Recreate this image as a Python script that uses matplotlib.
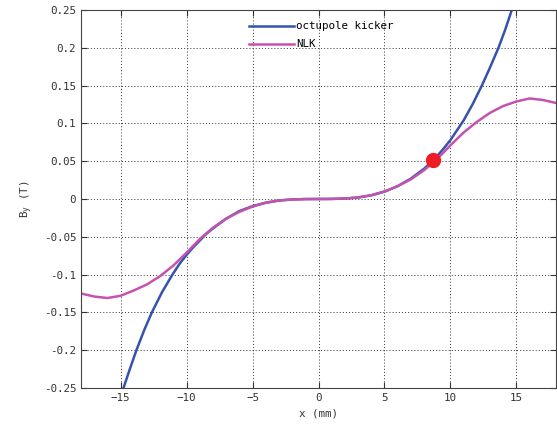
import matplotlib
matplotlib.use("Agg")
import matplotlib.pyplot as plt
import numpy as np

# field readings taken from the figure
x_oct = [-15, -14.78, -14.3, -13.8, -13.2, -12.63, -11.85, -11.07, -10.5, -10, -9.5, -9, -8.5, -8, -7, -6, -5, -4, -3, -2, -1,
         0, 1, 2, 3, 4, 5, 6, 7, 8, 8.5, 9, 9.5, 10, 10.5, 11, 11.7, 12.38, 13, 13.64, 14.15, 14.65, 15]
b_oct = [-0.262, -0.25, -0.225, -0.2, -0.173, -0.15, -0.123, -0.1, -0.085, -0.074, -0.064,
         -0.055, -0.046, -0.039, -0.026, -0.016, -0.0095, -0.0049, -0.002, -0.0006, -0.0001,
         0.0, 0.0001, 0.0006, 0.002, 0.0049, 0.0097, 0.017, 0.027, 0.040, 0.048, 0.057, 0.067, 0.078,
         0.091, 0.104, 0.126, 0.15, 0.174, 0.2, 0.224, 0.25, 0.269]

x_nlk = [-18, -17, -16, -15, -14, -13, -12, -11, -10, -9, -8, -7, -6, -5, -4, -3, -2, -1,
         0, 1, 2, 3, 4, 5, 6, 7, 8, 9, 10, 11, 12, 13, 14, 15, 16, 17, 18]
b_nlk = [-0.125, -0.129, -0.131, -0.128, -0.121, -0.113, -0.102, -0.088, -0.071, -0.053, -0.038, -0.026,
         -0.017, -0.010, -0.005, -0.002, -0.0006, -0.0001,
         0.0, 0.0001, 0.0006, 0.002, 0.005, 0.010, 0.017, 0.026, 0.038, 0.053, 0.071, 0.088, 0.102, 0.114,
         0.123, 0.129, 0.133, 0.131, 0.127]

match_x = [8.7]
match_b = [0.051]

xticks = [-15, -10, -5, 0, 5, 10, 15]
yticks = [-0.25, -0.2, -0.15, -0.1, -0.05, 0, 0.05, 0.1, 0.15, 0.2, 0.25]
ytick_labels = ["-0.25", "-0.2", "-0.15", "-0.1", "-0.05", "0", "0.05", "0.1", "0.15", "0.2", "0.25"]

plt.rcParams['font.family'] = ['DejaVu Sans Mono']
plt.rcParams['font.size'] = 7.8

fig = plt.figure(figsize=(5.57, 4.25), dpi=100)
ax = fig.add_axes([81 / 557, 37 / 425, 475 / 557, 378 / 425])

ax.plot(x_oct, b_oct, color="#3553ad", linewidth=1.8, label="octupole kicker")
ax.plot(x_nlk, b_nlk, color="#c453b0", linewidth=1.8, label="NLK")
ax.plot(match_x, match_b, "o", color="#ee1c24", markersize=10)

ax.set_xlim(-18, 18)
ax.set_ylim(-0.25, 0.25)
ax.set_xticks(xticks)
ax.set_yticks(yticks)
ax.set_yticklabels(ytick_labels)
ax.tick_params(direction="in", length=4, top=True, right=True, colors="#333333", labelcolor="#333333")
ax.grid(True, color="#333333", linestyle=(0, (1, 2.2)), linewidth=0.7)
for s in ax.spines.values():
    s.set_color("#444444")

ax.set_xlabel("x (mm)", color="#333333", labelpad=4)
ax.set_ylabel("B$_\\mathregular{y}$ (T)", color="#333333", labelpad=6)

ax.legend(loc="upper left", bbox_to_anchor=(0.338, 0.99), frameon=False, handlelength=4.1,
          handletextpad=0.25, labelspacing=0.75, borderaxespad=0.3)

fig.savefig("out.png", dpi=100)
